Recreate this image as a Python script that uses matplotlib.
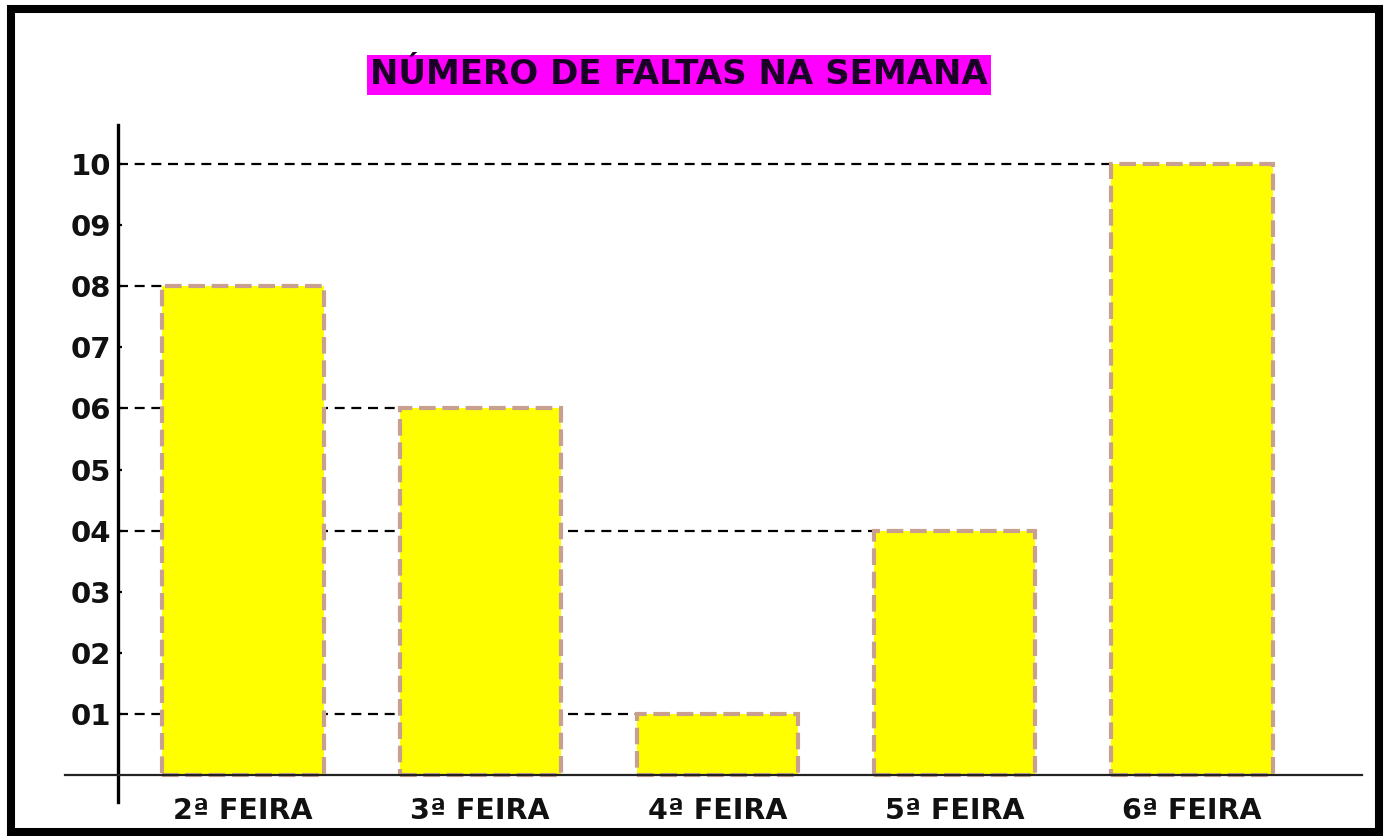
import matplotlib
matplotlib.use("Agg")
import matplotlib.pyplot as plt
from matplotlib.patches import Rectangle

# ---- data ----
categories = ["2ª FEIRA", "3ª FEIRA", "4ª FEIRA", "5ª FEIRA", "6ª FEIRA"]
faltas = [8, 6, 1, 4, 10]
y_ticks = [1, 2, 3, 4, 5, 6, 7, 8, 9, 10]
y_tick_labels = ["01", "02", "03", "04", "05", "06", "07", "08", "09", "10"]
title = "NÚMERO DE FALTAS NA SEMANA"

W, H = 1386, 836
fig = plt.figure(figsize=(W / 100, H / 100), dpi=100)
fig.patch.set_facecolor("white")

# axes area in pixels: x 65..1362, y(top) 125..802
ax = fig.add_axes([65 / W, (H - 802) / H, (1362 - 65) / W, (802 - 125) / H])
ax.set_facecolor("none")

xpos = list(range(len(categories)))
bar_w = 0.68
x_left, x_right = -0.750, 4.717
y_axis_x = -0.527
ax.set_xlim(x_left, x_right)
ax.set_ylim(-0.442, 10.64)

# dashed guide lines from the y axis to each bar's left edge
for x, v in zip(xpos, faltas):
    ax.plot([y_axis_x, x - bar_w / 2], [v, v], color="black", lw=1.6,
            dashes=(4.5, 3), zorder=1, solid_capstyle="butt")

ax.bar(xpos, faltas, width=bar_w, color="#ffff00", edgecolor="#c9a08f",
       linewidth=3.0, linestyle=(0, (4, 1.6)), zorder=2)

# spines as axis lines
for s in ["top", "right"]:
    ax.spines[s].set_visible(False)
ax.spines["left"].set_position(("data", y_axis_x))
ax.spines["left"].set_linewidth(2.4)
ax.spines["left"].set_color("black")
ax.spines["bottom"].set_position(("data", 0))
ax.spines["bottom"].set_linewidth(1.6)
ax.spines["bottom"].set_color("#222222")
ax.spines["left"].set_zorder(3)
ax.spines["bottom"].set_zorder(3)

ax.set_yticks(y_ticks)
ax.set_yticklabels(y_tick_labels, fontsize=21, fontweight="bold",
                   family="DejaVu Sans", color="#111111")
ax.tick_params(axis="y", direction="in", length=3, width=1.6, pad=5,
               color="black")

ax.set_xticks(xpos)
ax.set_xticklabels(categories, fontsize=20.5, fontweight="bold",
                   family="DejaVu Sans", color="#111111")
ax.tick_params(axis="x", length=0, pad=16)

# title with magenta box
fig.text(679 / W, 1 - 75 / H, title, ha="center", va="center",
         fontsize=24.5, fontweight="bold", family="DejaVu Sans",
         color="#1a0026",
         bbox=dict(boxstyle="square,pad=0.1", facecolor="#ff00ff",
                   edgecolor="none"))

# outer black frame
fig.patches.append(Rectangle((11 / W, 4 / H), (1379 - 11) / W, (827 - 4) / H,
                             transform=fig.transFigure, fill=False,
                             edgecolor="black", linewidth=5.8, zorder=10))

fig.savefig("out.png", dpi=100, facecolor="white")
